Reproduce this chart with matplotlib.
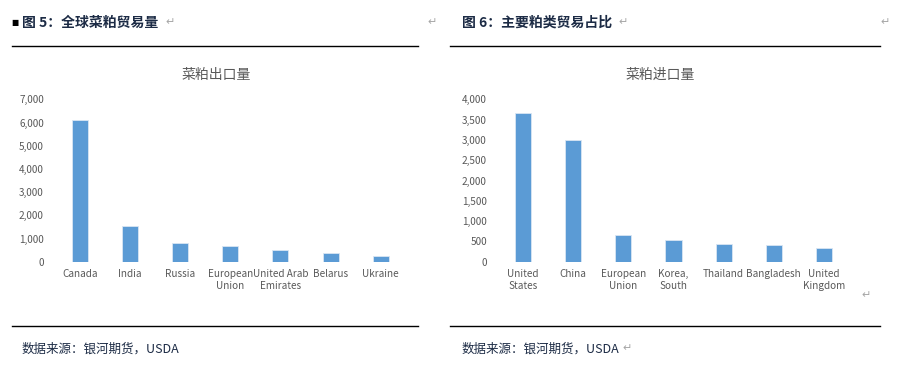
import matplotlib
matplotlib.use("Agg")
import matplotlib.pyplot as plt
from matplotlib.ticker import FuncFormatter, MultipleLocator

plt.rcParams['font.family'] = ['Noto Sans CJK SC', 'DejaVu Sans']

# Data
export_countries = ["Canada", "India", "Russia", "European\nUnion", "United Arab\nEmirates", "Belarus", "Ukraine"]
export_values = [6100, 1540, 790, 660, 500, 390, 245]
import_countries = ["United\nStates", "China", "European\nUnion", "Korea,\nSouth", "Thailand", "Bangladesh", "United\nKingdom"]
import_values = [3655, 3005, 655, 525, 435, 410, 335]

W, H = 902, 377
fig = plt.figure(figsize=(W / 100, H / 100), dpi=100)

bar_color = "#5B9BD5"
grey = "#595959"
navy = "#1C2B45"
mark = "#A6A6A6"

def fx(px):
    return px / W

def fy(py):
    return 1 - py / H

def comma(v, pos):
    return f"{int(v):,}"

def make_chart(left_px, right_px, cats, vals, ymax, step, title, title_x):
    ax = fig.add_axes([fx(left_px), fy(261.7), fx(right_px - left_px), (261.7 - 99.3) / H])
    x = range(len(cats))
    ax.bar(x, vals, width=0.32, color=bar_color, edgecolor="#D9E6F3", linewidth=0.6)
    ax.set_xlim(-0.5, len(cats) - 0.5)
    ax.set_ylim(0, ymax)
    ax.yaxis.set_major_locator(MultipleLocator(step))
    ax.yaxis.set_major_formatter(FuncFormatter(comma))
    ax.set_xticks(list(x))
    ax.set_xticklabels(cats, fontsize=7.2, color=grey, linespacing=1.25)
    ax.tick_params(axis='both', length=0, labelsize=7.2, colors=grey)
    ax.tick_params(axis='y', pad=8)
    ax.tick_params(axis='x', pad=5)
    for s in ax.spines.values():
        s.set_visible(False)
    fig.text(fx(title_x), fy(75), title, fontsize=10, color=grey, ha='center', va='center')
    return ax

make_chart(55, 405.7, export_countries, export_values, 7000, 1000, "菜粕出口量", 216)
make_chart(498, 849, import_countries, import_values, 4000, 500, "菜粕进口量", 660)

# Headers
fig.text(fx(11), fy(23), "■", fontsize=5.5, color="#000000", ha='left', va='center', family=['DejaVu Sans'])
fig.text(fx(22), fy(23), "图 5：全球菜粕贸易量", fontsize=10, color=navy, ha='left', va='center', fontweight='bold')
fig.text(fx(462), fy(23), "图 6：主要粕类贸易占比", fontsize=10, color=navy, ha='left', va='center', fontweight='bold')
fig.text(fx(165), fy(22), "↵", fontsize=8, color=mark, ha='left', va='center', family=['DejaVu Sans'])
fig.text(fx(618), fy(22), "↵", fontsize=8, color=mark, ha='left', va='center', family=['DejaVu Sans'])
fig.text(fx(427), fy(22), "↵", fontsize=8, color=mark, ha='left', va='center', family=['DejaVu Sans'])
fig.text(fx(880), fy(22), "↵", fontsize=8, color=mark, ha='left', va='center', family=['DejaVu Sans'])
fig.text(fx(861), fy(295), "↵", fontsize=8, color=mark, ha='left', va='center', family=['DejaVu Sans'])

# Rules
for (x0, x1, y) in [(12, 418, 46), (450, 880, 46), (12, 418, 326), (450, 880, 326)]:
    fig.add_artist(plt.Line2D([fx(x0), fx(x1)], [fy(y), fy(y)], color="#000000", linewidth=1.0))

# Footers
fig.text(fx(22), fy(349), "数据来源：银河期货，USDA", fontsize=9, color=navy, ha='left', va='center')
fig.text(fx(462), fy(349), "数据来源：银河期货，USDA", fontsize=9, color=navy, ha='left', va='center')
fig.text(fx(622), fy(348), "↵", fontsize=8, color=mark, ha='left', va='center', family=['DejaVu Sans'])

fig.savefig("out.png", dpi=100, facecolor="white")
